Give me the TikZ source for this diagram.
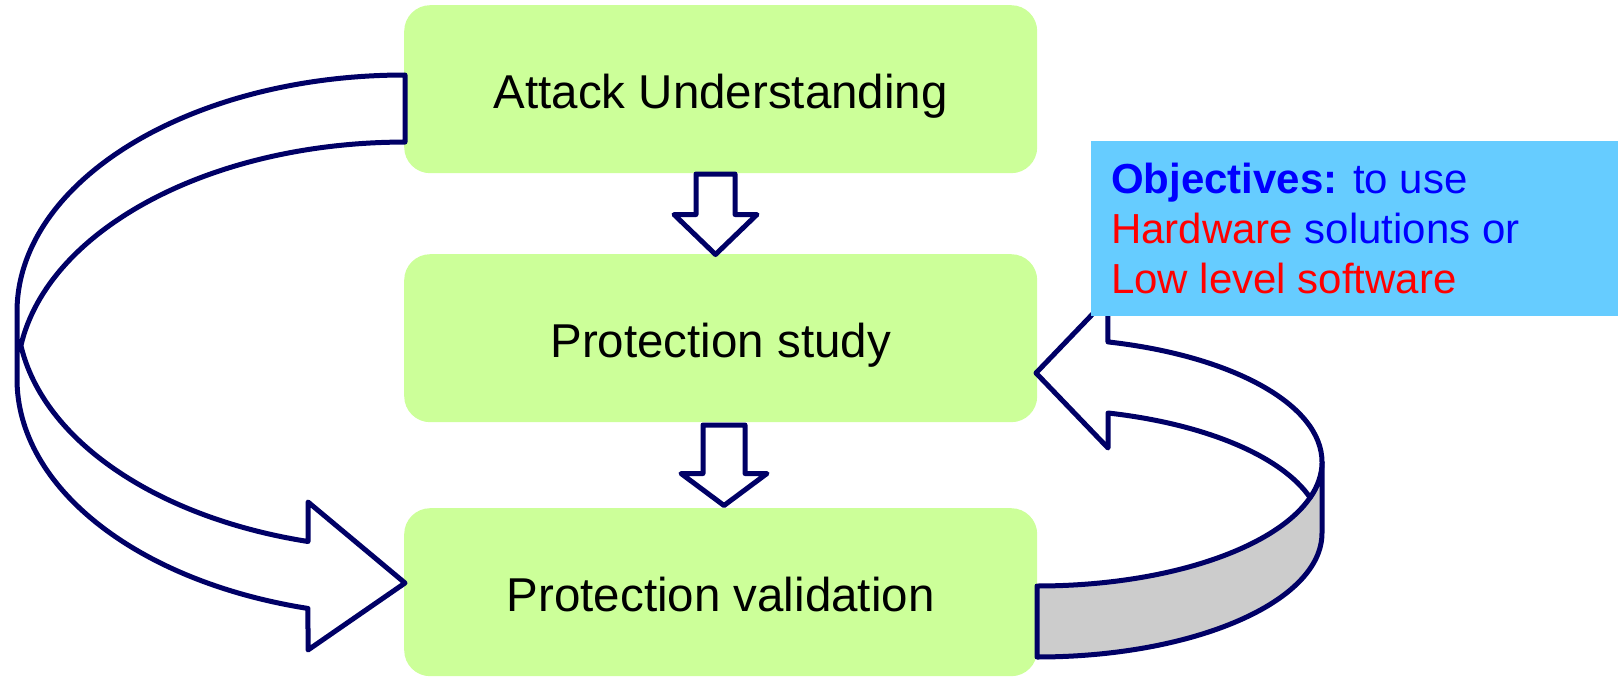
\documentclass[tikz,border=0pt]{standalone}
\usepackage{fontspec}
\setmainfont{Liberation Sans}
\definecolor{navy}{RGB}{0,0,102}
\definecolor{boxgreen}{RGB}{204,255,153}
\definecolor{skyblue}{RGB}{102,204,255}
\definecolor{bandgray}{RGB}{204,204,204}
\definecolor{objblue}{RGB}{0,0,255}
\definecolor{objred}{RGB}{255,0,0}
\begin{document}
\begin{tikzpicture}[x=1pt,y=-1pt,
  stepbox/.style={rounded corners=26pt, fill=boxgreen, minimum width=633pt,
    minimum height=168pt, inner sep=0pt, anchor=north west,
    font=\fontsize{47.5}{57}\selectfont, text height=39pt, text depth=0pt},
  ribbon/.style={draw=navy, line width=5pt, line join=round, fill=white},
  notebox/.style={fill=skyblue, minimum width=527pt, minimum height=175pt,
    inner sep=0pt, anchor=north west},
  notetext/.style={anchor=base west, align=left, inner sep=0pt,
    font=\fontsize{42}{50}\selectfont},
]
\useasboundingbox (0,0) rectangle (1618,677);

% process steps
\node[stepbox] (attack) at (404,5)   {Attack Understanding};
\node[stepbox] (study)  at (404,254) {Protection study};
\node[stepbox] (valid)  at (404,508) {Protection validation};

% block arrows between the steps
\draw[ribbon] (696,174) -- (735,174) -- (735,214.5) -- (757,214.5)
  -- (715.5,254.5) -- (674,214.5) -- (696,214.5) -- cycle;
\draw[ribbon] (703,425) -- (745,425) -- (745,473.5) -- (767,473.5)
  -- (724,505.5) -- (681,473.5) -- (703,473.5) -- cycle;

% curved arrow from the first step down to the validation step
\draw[ribbon] (405,75)
  arc[start angle=270, end angle=180, x radius=388, y radius=237]
  -- (17,379)
  arc[start angle=180, end angle=104.48, x radius=388, y radius=237]
  -- (308,650) -- (405,583) -- (308,502) -- (308,541.5)
  arc[start angle=104.48, end angle=171.87, x radius=388, y radius=237]
  arc[start angle=188.13, end angle=270, x radius=388, y radius=237]
  -- cycle;

% feedback arrow from validation back to the study: side band
\draw[ribbon, fill=bandgray] (1037,586) -- (1037,657)
  arc[start angle=90, end angle=0, x radius=285, y radius=124]
  -- (1322,462)
  arc[start angle=0, end angle=90, x radius=285, y radius=124]
  -- cycle;
% feedback arrow: top face with head
\draw[ribbon] (1322,462)
  arc[start angle=0, end angle=-75.58, x radius=285, y radius=124]
  -- (1108,298) -- (1036,373) -- (1108,448) -- (1108,413)
  arc[start angle=-75.58, end angle=-16.64, x radius=285, y radius=124]
  arc[start angle=16.64, end angle=0, x radius=285, y radius=124]
  -- cycle;

% objectives note (text node anchored on its last baseline)
\node[notebox] (note) at (1091,141) {};
\node[notetext] (objtext) at (1111,293)
  {\textcolor{objblue}{\textbf{Objectives:} to use}\\
   \textcolor{objred}{Hardware} \textcolor{objblue}{solutions or}\\
   \textcolor{objred}{Low level software}};
\end{tikzpicture}
\end{document}
